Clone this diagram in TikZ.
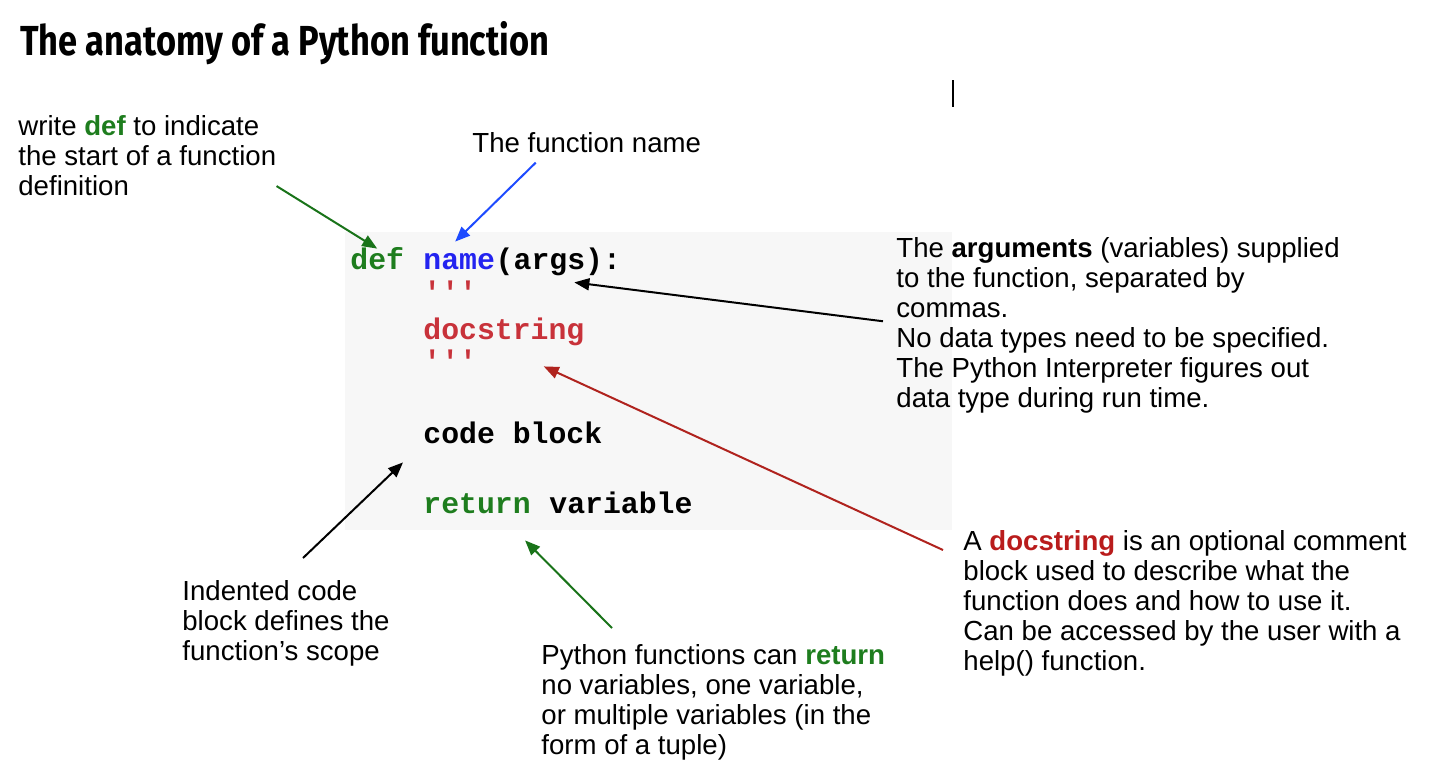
\documentclass[tikz,border=0pt]{standalone}
\usepackage{fontspec}
\usepackage{xcolor}
\usepackage{graphicx}
\usetikzlibrary{arrows.meta}
\setmainfont{Liberation Sans}
\newfontfamily\codefont{Liberation Mono}
\newfontfamily\titlefont{Fira Sans}

\definecolor{codebg}{HTML}{F7F7F7}
\definecolor{kwgreen}{RGB}{30,125,30}
\definecolor{arrgreen}{RGB}{25,115,25}
\definecolor{namblue}{RGB}{35,35,240}
\definecolor{arrblue}{RGB}{30,75,255}
\definecolor{docred}{RGB}{200,50,58}
\definecolor{notered}{RGB}{185,28,28}
\definecolor{arrred}{RGB}{176,35,30}

\begin{document}
\begin{tikzpicture}[
  x=0.5pt,y=-0.5pt,
  note/.style={inner sep=0pt,align=left,font=\fontsize{13.8}{15}\selectfont},
  code/.style={anchor=base west,inner sep=0pt,text height=10pt,text depth=3pt,
               font=\codefont\bfseries\fontsize{14.9}{15}\selectfont},
  arr/.style={-{Triangle[length=7.5pt,width=6pt]},line width=1pt}
]
  \useasboundingbox (0,0) rectangle (1438,778);

  % title
  \node[anchor=base west,inner sep=0pt,font=\titlefont\bfseries\fontsize{17.2}{20}\selectfont] (title) at (20,55)
    {\scalebox{1}[1.22]{The anatomy of a Python function}};
  \draw[line width=1pt] (953,80) -- (953,107);

  % code panel
  \fill[codebg] (345,232) rectangle (952,530);
  \node[code,text=kwgreen] (kwdef) at (350,269) {def};
  \node[code,text=namblue] (fname) at (423,269) {name};
  \node[code] (args) at (fname.base east) {(args):};
  \node[code,text=docred] (q1) at (423,302) {'{}'{}'};
  \node[code,text=docred] (docstr) at (423,339) {docstring};
  \node[code,text=docred] (q2) at (423,371) {'{}'{}'};
  \node[code] (codeblk) at (423,443) {code block};
  \node[code,text=kwgreen] (kwret) at (423,513) {return};
  \node[code] (retvar) at (kwret.base east) {~variable};

  % notes
  \node[note,anchor=north west] (defnote) at (18,115)
    {write \textbf{\textcolor{kwgreen}{def}} to indicate\\the start of a function\\definition};
  \node[note,anchor=base west] (namenote) at (472,152) {The function name};
  \node[note,anchor=north west] (argsnote) at (896,237)
    {The \textbf{arguments} (variables) supplied\\to the function, separated by\\commas.\\
     No data types need to be specified.\\The Python Interpreter figures out\\data type during run time.};
  \node[note,anchor=north west] (docnote) at (963,530)
    {A \textbf{\textcolor{notered}{docstring}} is an optional comment\\block used to describe what the\\
     function does and how to use it.\\Can be accessed by the user with a\\help() function.};
  \node[note,anchor=north west] (scopenote) at (182,580)
    {Indented code\\block defines the\\function’s scope};
  \node[note,anchor=north west] (returnnote) at (541,644)
    {Python functions can \textbf{\textcolor{kwgreen}{return}}\\no variables, one variable,\\
     or multiple variables (in the\\form of a tuple)};

  % pointers
  \draw[arr,arrgreen] ([yshift=5pt]defnote.south east) -- (kwdef.north);
  \draw[arr,arrblue] ([shift={(-25.5pt,-5pt)}]namenote.south) -- ([shift={(-2pt,3.5pt)}]fname.north);
  \draw[arr,black] ([shift={(-6.5pt,2pt)}]argsnote.west) -- ([shift={(8pt,-3.5pt)}]args.south);
  \draw[arr,arrred] ([shift={(-10pt,-10pt)}]docnote.north west) -- ([shift={(-20.5pt,-10.5pt)}]docstr.south east);
  \draw[arr,black] ([shift={(60.5pt,11pt)}]scopenote.north west) -- ([shift={(-10pt,-6.5pt)}]codeblk.south west);
  \draw[arr,arrgreen] ([shift={(35.5pt,8pt)}]returnnote.north west) -- ([shift={(-3pt,-10.5pt)}]kwret.south east);
\end{tikzpicture}
\end{document}
